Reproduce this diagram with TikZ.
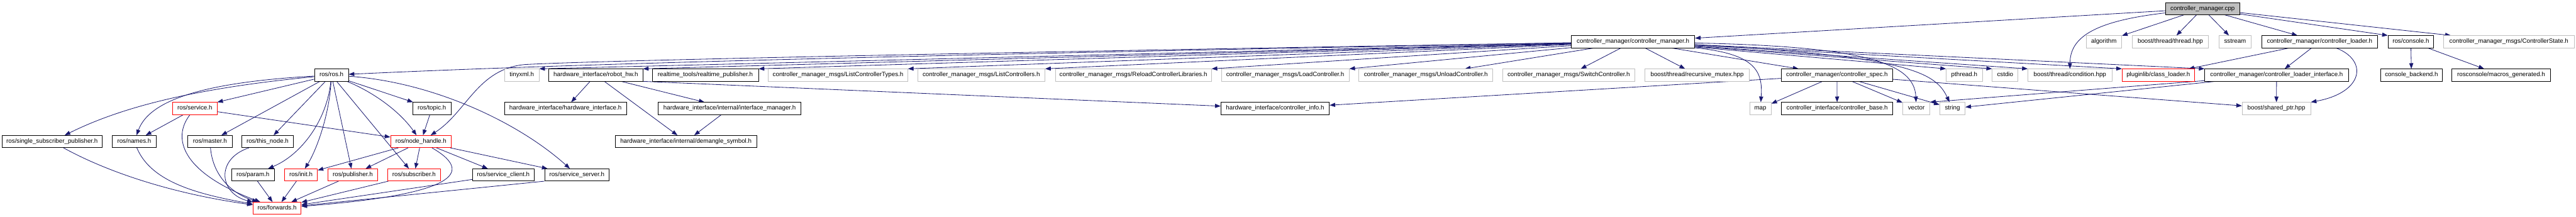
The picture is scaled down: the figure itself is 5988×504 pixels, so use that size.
\documentclass[tikz,border=0pt]{standalone}
\usepackage{fontspec}
\setmainfont{Liberation Sans}
\usepackage{xcolor}
\usepackage{tikz}
\usetikzlibrary{arrows.meta, backgrounds}
\definecolor{edgeblue}{HTML}{191970}
\definecolor{extgray}{HTML}{BFBFBF}
\definecolor{cutred}{HTML}{FF0000}

\begin{document}
\begin{tikzpicture}[
    x=1pt, y=-1pt,
    box/.style = {
        rectangle, minimum height=28pt, inner sep=0pt,
        text height=10.3pt, text depth=2.9pt,
        line width=1.2pt, fill=white, text=black,
        font=\fontsize{14.3pt}{17pt}\selectfont
    },
    docbox/.style  = {box, draw=black},
    extbox/.style  = {box, draw=extgray},
    cutbox/.style  = {box, draw=cutred},
    rootbox/.style = {box, draw=black, fill=extgray},
    arrow/.style   = {-{Triangle[length=13pt, width=9.5pt]}, line width=1.2pt, edgeblue},
]
\useasboundingbox (0,0) rectangle (5988,504);

% --- rank 0: the file itself ---
\node[rootbox, minimum width=173pt] (cpp) at (5120, 20) {controller\_manager.cpp};

% --- rank 1 ---
\node[docbox, minimum width=287pt] (cmh)       at (3796, 97) {controller\_manager/controller\_manager.h};
\node[extbox, minimum width=83pt]  (algorithm) at (4890.5, 97) {algorithm};
\node[extbox, minimum width=178pt] (threadhpp) at (5045, 97) {boost/thread/thread.hpp};
\node[extbox, minimum width=75pt]  (sstream)   at (5195.5, 97) {sstream};
\node[docbox, minimum width=270pt] (loader)    at (5392, 97) {controller\_manager/controller\_loader.h};
\node[docbox, minimum width=106pt] (console)   at (5604, 97) {ros/console.h};
\node[extbox, minimum width=303pt] (ctrlstate) at (5832, 97) {controller\_manager\_msgs/ControllerState.h};

% --- rank 2 ---
\node[docbox, minimum width=79pt]  (rosh)        at (770.5, 174.5) {ros/ros.h};
\node[extbox, minimum width=80pt]  (tinyxml)     at (1213, 174.5) {tinyxml.h};
\node[docbox, minimum width=218pt] (robothw)     at (1385, 174.5) {hardware\_interface/robot\_hw.h};
\node[docbox, minimum width=247pt] (rtpub)       at (1639.5, 174.5) {realtime\_tools/realtime\_publisher.h};
\node[extbox, minimum width=324pt] (listtypes)   at (1948, 174.5) {controller\_manager\_msgs/ListControllerTypes.h};
\node[extbox, minimum width=296pt] (listctrl)    at (2281, 174.5) {controller\_manager\_msgs/ListControllers.h};
\node[extbox, minimum width=363pt] (reload)      at (2634.5, 174.5) {controller\_manager\_msgs/ReloadControllerLibraries.h};
\node[extbox, minimum width=297pt] (load)        at (2987.5, 174.5) {controller\_manager\_msgs/LoadController.h};
\node[extbox, minimum width=311pt] (unload)      at (3314.5, 174.5) {controller\_manager\_msgs/UnloadController.h};
\node[extbox, minimum width=307pt] (swctrl)      at (3646.5, 174.5) {controller\_manager\_msgs/SwitchController.h};
\node[extbox, minimum width=243pt] (recmutex)    at (3945, 174.5) {boost/thread/recursive\_mutex.hpp};
\node[docbox, minimum width=260pt] (spec)        at (4270, 174.5) {controller\_manager/controller\_spec.h};
\node[extbox, minimum width=84pt]  (pthread)     at (4566, 174.5) {pthread.h};
\node[extbox, minimum width=60pt]  (cstdio)      at (4661, 174.5) {cstdio};
\node[extbox, minimum width=195pt] (condition)   at (4811.5, 174.5) {boost/thread/condition.hpp};
\node[cutbox, minimum width=168pt] (classloader) at (5017, 174.5) {pluginlib/class\_loader.h};
\node[docbox, minimum width=334pt] (loaderif)    at (5292, 174.5) {controller\_manager/controller\_loader\_interface.h};
\node[docbox, minimum width=144pt] (backend)     at (5605.5, 174.5) {console\_backend.h};
\node[docbox, minimum width=229pt] (macros)      at (5814, 174.5) {rosconsole/macros\_generated.h};

% --- rank 3 ---
\node[cutbox, minimum width=103pt] (service)   at (453, 252) {ros/service.h};
\node[docbox, minimum width=90pt]  (topic)     at (1004, 252) {ros/topic.h};
\node[docbox, minimum width=283pt] (hwif)      at (1314.5, 252) {hardware\_interface/hardware\_interface.h};
\node[docbox, minimum width=332pt] (ifmgr)     at (1696, 252) {hardware\_interface/internal/interface\_manager.h};
\node[docbox, minimum width=252pt] (ctrlinfo)  at (2964, 252) {hardware\_interface/controller\_info.h};
\node[extbox, minimum width=50pt]  (stdmap)    at (4092, 252) {map};
\node[docbox, minimum width=259pt] (base)      at (4270.5, 252) {controller\_interface/controller\_base.h};
\node[extbox, minimum width=63pt]  (stdvector) at (4454.5, 252) {vector};
\node[extbox, minimum width=59pt]  (stdstring) at (4538.5, 252) {string};
\node[extbox, minimum width=159pt] (sharedptr) at (5291.5, 252) {boost/shared\_ptr.hpp};

% --- rank 4 ---
\node[docbox, minimum width=233pt] (ssp)        at (121, 329) {ros/single\_subscriber\_publisher.h};
\node[docbox, minimum width=102pt] (names)      at (312, 329) {ros/names.h};
\node[docbox, minimum width=103pt] (master)     at (488, 329) {ros/master.h};
\node[docbox, minimum width=120pt] (thisnode)   at (622, 329) {ros/this\_node.h};
\node[cutbox, minimum width=141pt] (nodehandle) at (978.5, 329) {ros/node\_handle.h};
\node[docbox, minimum width=329pt] (demangle)   at (1594.5, 329) {hardware\_interface/internal/demangle\_symbol.h};

% --- rank 5 ---
\node[docbox, minimum width=100pt] (param)      at (588, 406.5) {ros/param.h};
\node[cutbox, minimum width=77pt]  (init)       at (699.5, 406.5) {ros/init.h};
\node[cutbox, minimum width=115pt] (publisher)  at (820, 406.5) {ros/publisher.h};
\node[cutbox, minimum width=123pt] (subscriber) at (962.5, 406.5) {ros/subscriber.h};
\node[docbox, minimum width=143pt] (srvclient)  at (1170, 406.5) {ros/service\_client.h};
\node[docbox, minimum width=150pt] (srvserver)  at (1341, 406.5) {ros/service\_server.h};

% --- rank 6 ---
\node[cutbox, minimum width=112pt] (forwards) at (644, 484) {ros/forwards.h};

\begin{scope}[on background layer]
% --- includes of controller_manager.cpp ---
\draw[arrow] (cpp) -- (cmh);
\draw[arrow] (cpp) -- (algorithm);
\draw[arrow] (cpp) -- (threadhpp);
\draw[arrow] (cpp) -- (sstream);
\draw[arrow] (cpp) -- (loader);
\draw[arrow] (cpp) -- (console.north west);
\draw[arrow] (cpp) -- (ctrlstate);
\draw[arrow] (cpp) .. controls (4860,50) and (4812,90) .. (condition);

% --- includes of controller_manager.h ---
\draw[arrow] (cmh) .. controls (2000,130) and (1300,150) .. (rosh);
\draw[arrow] (cmh) .. controls (2400,120) and (1400,140) .. (1220,150)
                   .. controls (1110,160) and (1085,260) .. (nodehandle);
\draw[arrow] (cmh) -- (tinyxml.north east);
\draw[arrow] (cmh) -- (robothw.north east);
\draw[arrow] (cmh) -- (rtpub.north east);
\draw[arrow] (cmh) -- (listtypes.north east);
\draw[arrow] (cmh) -- (listctrl.north east);
\draw[arrow] (cmh) -- (reload.north east);
\draw[arrow] (cmh) -- (load.north east);
\draw[arrow] (cmh) -- (unload);
\draw[arrow] (cmh) -- (swctrl);
\draw[arrow] (cmh) -- (recmutex);
\draw[arrow] (cmh) .. controls (4080,125) and (4098,165) .. (stdmap);
\draw[arrow] (cmh) -- (spec);
\draw[arrow] (cmh) .. controls (4330,108) and (4450,145) .. (stdvector);
\draw[arrow] (cmh) .. controls (4440,130) and (4500,170) .. (stdstring);
\draw[arrow] (cmh) -- (pthread.north west);
\draw[arrow] (cmh) -- (cstdio.north west);
\draw[arrow] (cmh) -- (condition.north west);
\draw[arrow] (cmh) -- (classloader.north west);
\draw[arrow] (cmh) -- (loaderif.north west);

% --- controller side ---
\draw[arrow] (spec) -- (ctrlinfo);
\draw[arrow] (spec) -- (stdmap);
\draw[arrow] (spec) -- (base);
\draw[arrow] (spec) -- (stdvector);
\draw[arrow] (spec) -- (stdstring);
\draw[arrow] (spec) -- (sharedptr);
\draw[arrow] (loaderif) -- (sharedptr);
\draw[arrow] (loaderif) -- (stdvector.north east);
\draw[arrow] (loaderif) -- (stdstring);
\draw[arrow] (loader) -- (classloader);
\draw[arrow] (loader) -- (loaderif);
\draw[arrow] (loader) .. controls (5505,140) and (5495,215) .. (sharedptr);
\draw[arrow] (console) -- (backend);
\draw[arrow] (console) -- (macros);

% --- hardware interface ---
\draw[arrow] (robothw) -- (hwif);
\draw[arrow] (robothw) -- (demangle);
\draw[arrow] (robothw) -- (ifmgr);
\draw[arrow] (robothw.south east) -- (ctrlinfo);
\draw[arrow] (ifmgr) -- (demangle);

% --- ros/ros.h ---
\draw[arrow] (rosh) .. controls (450,205) and (280,250) .. (ssp);
\draw[arrow] (rosh) .. controls (500,190) and (350,225) .. (names);
\draw[arrow] (rosh) -- (service.north east);
\draw[arrow] (rosh) -- (master);
\draw[arrow] (rosh) -- (thisnode);
\draw[arrow] (rosh) .. controls (760,280) and (700,360) .. (param);
\draw[arrow] (rosh) .. controls (765,270) and (735,350) .. (init);
\draw[arrow] (rosh) -- (publisher);
\draw[arrow] (rosh) -- (subscriber);
\draw[arrow] (rosh) .. controls (870,215) and (930,260) .. (nodehandle);
\draw[arrow] (rosh) -- (topic);
\draw[arrow] (rosh) .. controls (1000,190) and (1200,280) .. (srvserver);

\draw[arrow] (service) -- (names);
\draw[arrow] (service) .. controls (400,320) and (420,400) .. (forwards);
\draw[arrow] (service) -- (nodehandle);
\draw[arrow] (topic) -- (nodehandle);

% --- ros/node_handle.h ---
\draw[arrow] (nodehandle) -- (init);
\draw[arrow] (nodehandle) -- (publisher);
\draw[arrow] (nodehandle) -- (subscriber);
\draw[arrow] (nodehandle) -- (srvclient);
\draw[arrow] (nodehandle) -- (srvserver);
\draw[arrow] (nodehandle) .. controls (1120,410) and (1020,455) .. (forwards);

% --- everything ends in ros/forwards.h ---
\draw[arrow] (ssp) .. controls (250,400) and (400,450) .. (forwards);
\draw[arrow] (names) .. controls (350,420) and (450,450) .. (forwards);
\draw[arrow] (master) .. controls (495,410) and (540,450) .. (forwards);
\draw[arrow] (thisnode) .. controls (500,370) and (510,450) .. (forwards);
\draw[arrow] (param) -- (forwards);
\draw[arrow] (init) -- (forwards);
\draw[arrow] (publisher) -- (forwards);
\draw[arrow] (subscriber) -- (forwards);
\draw[arrow] (srvclient) -- (forwards);
\draw[arrow] (srvserver.south west) -- (forwards);
\end{scope}

\end{tikzpicture}
\end{document}
